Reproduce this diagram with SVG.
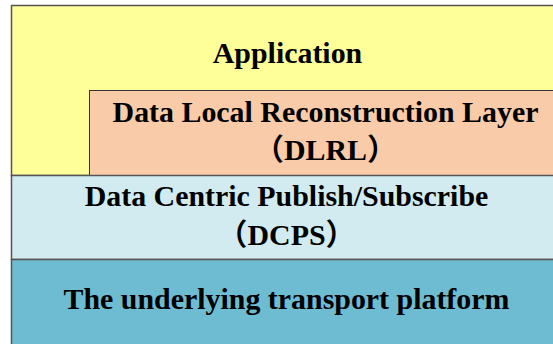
<svg xmlns="http://www.w3.org/2000/svg" width="553" height="344" viewBox="0 0 553 344">
<style>
.box{stroke:#555;stroke-width:1.5}
.t{font-family:"Liberation Serif","Noto Sans CJK SC",serif;font-weight:bold;font-size:29.9px;fill:#000;text-anchor:middle}
</style>
<rect width="553" height="344" fill="#fff"/>
<g id="application">
<rect class="box" x="11.5" y="5.5" width="560" height="170" fill="#FFFF99"/>
<text class="t" x="287.5" y="63">Application</text>
</g>
<g id="dlrl">
<rect x="89.5" y="90.5" width="480" height="85" fill="#F9CBA8" stroke="#333" stroke-width="1"/>
<text class="t" x="325.5" y="122">Data Local Reconstruction Layer</text>
<text class="t" x="325.5" y="160">（DLRL）</text>
</g>
<g id="dcps">
<rect class="box" x="11.5" y="175.5" width="560" height="84" fill="#D2EBF0"/>
<text class="t" x="286.5" y="206">Data Centric Publish/Subscribe</text>
<text class="t" x="286.5" y="245">（DCPS）</text>
</g>
<g id="transport">
<rect class="box" x="11.5" y="259.5" width="560" height="100" fill="#6EBCD2"/>
<text class="t" x="286.5" y="309">The underlying transport platform</text>
</g>
<g id="connectors"></g>
</svg>
